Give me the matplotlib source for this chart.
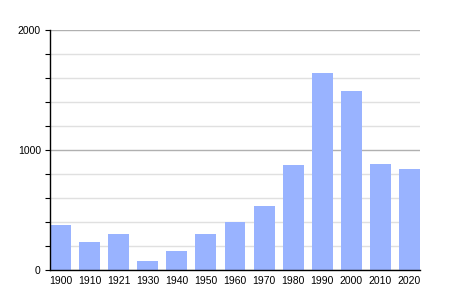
import matplotlib
matplotlib.use('Agg')
import matplotlib.pyplot as plt
from matplotlib.ticker import MultipleLocator

# Population by census year
years = ['1900', '1910', '1921', '1930', '1940', '1950', '1960',
         '1970', '1980', '1990', '2000', '2010', '2020']
population = [375, 233, 300, 75, 158, 300, 400, 533, 875, 1642, 1492, 883, 842]

fig = plt.figure(figsize=(4.5, 3), dpi=100)
ax = fig.add_axes([50 / 450, 30 / 300, 370 / 450, 240 / 300])

x = range(len(years))
ax.bar(x, population, width=0.72, color='#99b3ff', zorder=3)

ax.set_xlim(-0.36, len(years) - 1 + 0.36)
ax.set_ylim(0, 2000)

# Ticks and grid
ax.yaxis.set_major_locator(MultipleLocator(1000))
ax.yaxis.set_minor_locator(MultipleLocator(200))
ax.grid(axis='y', which='major', color='#b0b0b0', linewidth=1, zorder=1)
ax.grid(axis='y', which='minor', color='#e0e0e0', linewidth=1, zorder=0)

ax.set_xticks(list(x))
ax.set_xticklabels(years)
ax.tick_params(axis='x', length=0, pad=4, labelsize=7.5)
ax.tick_params(axis='y', which='both', length=3.6, width=0.8, pad=3, labelsize=7.5)

for side in ['top', 'right']:
    ax.spines[side].set_visible(False)
ax.spines['left'].set_linewidth(1)
ax.spines['bottom'].set_linewidth(1)
ax.spines['left'].set_zorder(4)
ax.spines['bottom'].set_zorder(4)

for lbl in ax.get_xticklabels() + ax.get_yticklabels():
    lbl.set_fontfamily('Liberation Sans')

fig.savefig('out.png', dpi=100)
